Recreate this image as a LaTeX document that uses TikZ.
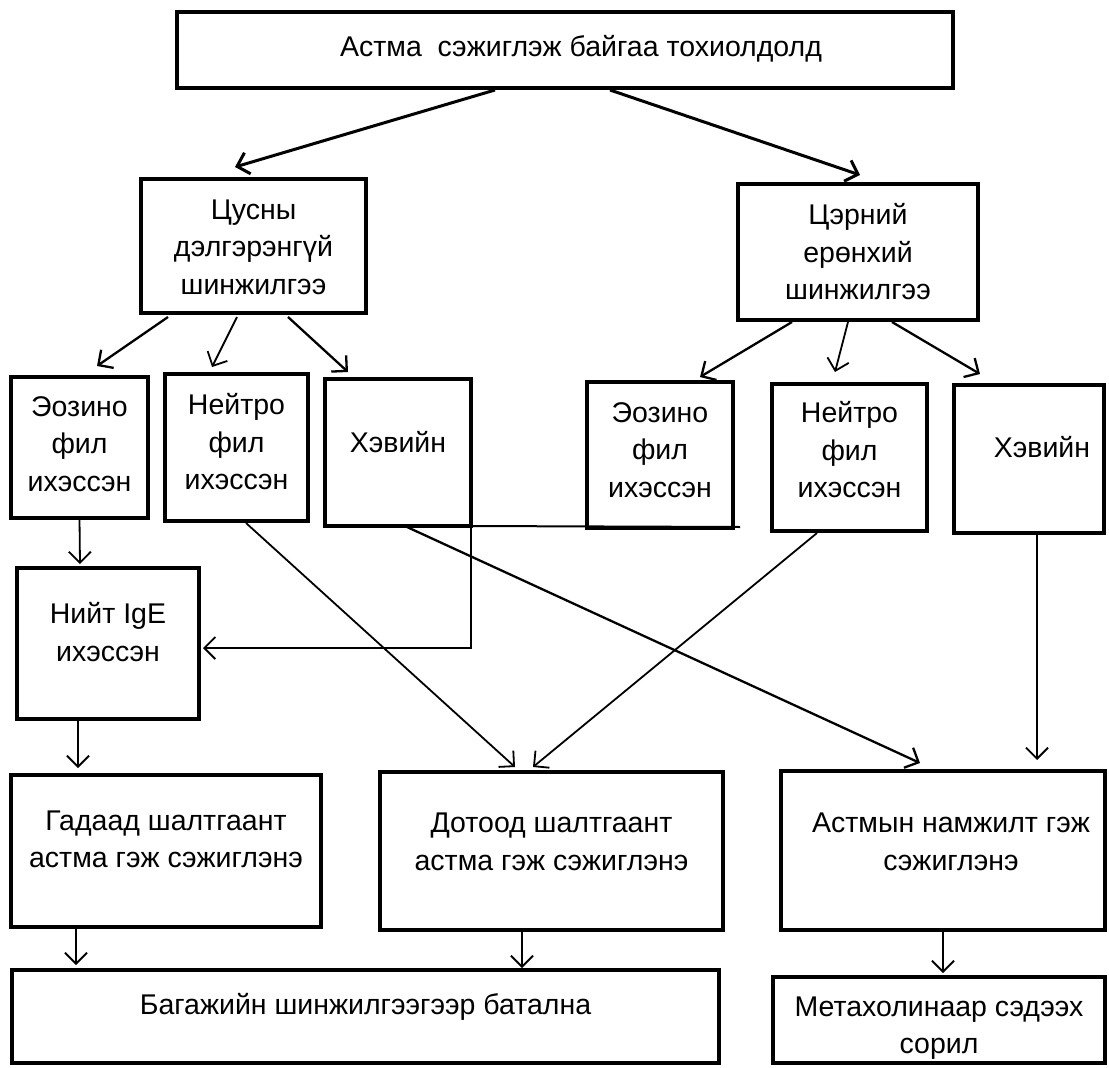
\documentclass[tikz,border=0pt]{standalone}
\usepackage{fontspec}
\setmainfont{Liberation Sans}
\usetikzlibrary{arrows.meta,calc}
\begin{document}
\begin{tikzpicture}[x=1pt,y=-1pt,
  box/.style={draw=black, line width=4pt, inner sep=0pt, outer sep=0pt, rectangle, fill=white},
  txt/.style={font=\fontsize{28.5}{37.5}\selectfont, align=center, inner sep=0pt},
  tip/.style={-{Straight Barb[length=11pt,width=22pt]}},
  arr/.style={tip, line width=1.8pt},
  arrm/.style={tip, line width=2.3pt},
  arrt/.style={tip, line width=3pt},
  ln/.style={line width=2pt}]
\useasboundingbox (0,0) rectangle (1109,1068);
\fill[white] (0,0) rectangle (1109,1068);

% boxes
\node[box, minimum width=776pt, minimum height=76pt] (top) at (565,50) {};
\node[box, minimum width=225pt, minimum height=134pt] (cus) at (253.5,246) {};
\node[box, minimum width=240pt, minimum height=136pt] (cer) at (858,252) {};
\node[box, minimum width=137pt, minimum height=141pt] (eozL) at (79.5,447.5) {};
\node[box, minimum width=143pt, minimum height=147pt] (neiL) at (236.5,447.5) {};
\node[box, minimum width=146pt, minimum height=147pt] (hevL) at (398,452.5) {};
\node[box, minimum width=146pt, minimum height=146pt] (eozR) at (660,455) {};
\node[box, minimum width=155pt, minimum height=147pt] (neiR) at (849.5,457.5) {};
\node[box, minimum width=150pt, minimum height=148pt] (hevR) at (1029,459) {};
\node[box, minimum width=182pt, minimum height=151pt] (igE) at (108,643.5) {};
\node[box, minimum width=310pt, minimum height=152pt] (gad) at (166,851) {};
\node[box, minimum width=343pt, minimum height=158pt] (dot) at (551.5,851) {};
\node[box, minimum width=324pt, minimum height=159pt] (ast) at (943,850.5) {};
\node[box, minimum width=707pt, minimum height=93pt] (bag) at (365.5,1016.5) {};
\node[box, minimum width=332pt, minimum height=86pt] (met) at (939,1020) {};

% texts
\node[txt] (ttop) at ($(top.center)+(16,-1)$) {Астма\ \ сэжиглэж байгаа тохиолдолд};
\node[txt] (tcus) at ($(cus.center)+(0,1)$) {Цусны\\дэлгэрэнгүй\\шинжилгээ};
\node[txt] (tcer) at ($(cer.center)+(0,0)$) {Цэрний\\ерөнхий\\шинжилгээ};
\node[txt] (teozL) at ($(eozL.center)+(0,-3.5)$) {Эозино\\фил\\ихэссэн};
\node[txt] (tneiL) at ($(neiL.center)+(0,-5.5)$) {Нейтро\\фил\\ихэссэн};
\node[txt] (thevL) at ($(hevL.center)+(0,-10.5)$) {Хэвийн};
\node[txt] (teozR) at ($(eozR.center)+(0,-5)$) {Эозино\\фил\\ихэссэн};
\node[txt] (tneiR) at ($(neiR.center)+(0,-7.5)$) {Нейтро\\фил\\ихэссэн};
\node[txt] (thevR) at ($(hevR.center)+(13,-12)$) {Хэвийн};
\node[txt] (tigE) at ($(igE.center)+(0,-11.5)$) {Нийт IgE\\ихэссэн};
\node[txt] (tgad) at ($(gad.center)+(0,-11.5)$) {Гадаад шалтгаант\\астма гэж сэжиглэнэ};
\node[txt] (tdot) at ($(dot.center)+(0,-9)$) {Дотоод шалтгаант\\астма гэж сэжиглэнэ};
\node[txt] (tast) at ($(ast.center)+(8,-8.5)$) {Астмын намжилт гэж\\сэжиглэнэ};
\node[txt] (tbag) at ($(bag.center)+(0,-9.5)$) {Багажийн шинжилгээгээр батална};
\node[txt] (tmet) at ($(met.center)+(0,8)$) {Метахолинаар сэдээх\\сорил};

% connectors
\draw[arrt] ($(top.south)+(-70,2)$) -- ($(cus.north)+(-18.5,-12)$);
\draw[arrt] ($(top.south)+(45,2)$) -- ($(cer.north)+(2,-9)$);

\draw[arrm] ($(cus.south)+(-85.5,4)$) -- ($(eozL.north)+(17.5,-11)$);
\draw[arr]  ($(cus.south)+(-16.5,4)$) -- ($(neiL.north)+(-24.5,-7)$);
\draw[arrm] ($(cus.south)+(34.5,4)$) -- ($(hevL.north)+(-50,-7)$);

\draw[arrm] ($(cer.south)+(-66,2)$) -- ($(eozR.north)+(40,-5)$);
\draw[arr]  ($(cer.south)+(-10,2)$) -- ($(neiR.north)+(-14.5,-12)$);
\draw[arrm] ($(cer.south)+(34,2)$) -- ($(hevR.north)+(-49,-11)$);

\draw[arr] (eozL.south) -- ($(igE.north)+(-28,-4)$);
\draw[ln] (hevL.south east) -- ($(eozR.south east)+(7,-1)$);
\draw[arr] (hevL.south east) |- ($(igE.east)+(4,4.5)$);

\draw[arr]  ($(neiL.south)+(9.5,2)$) -- ($(dot.north)+(-36.5,-5)$);
\draw[arr]  ($(neiR.south)+(-32.5,2)$) -- ($(dot.north)+(-18.5,-5)$);
\draw[arrm] ($(hevL.south)+(9,1)$) -- ($(ast.north)+(-23,-8)$);
\draw[arr]  ($(hevR.south)+(8,0)$) -- ($(ast.north)+(94,-11)$);

\draw[arr] ($(igE.south)+(-30,1)$) -- ($(gad.north)+(-88,-7)$);
\draw[arr] ($(gad.south)+(-90,0)$) -- ($(bag.north)+(-289.5,-5)$);
\draw[arr] ($(dot.south)+(-29.5,0)$) -- ($(bag.north)+(156.5,-2)$);
\draw[arr] (ast.south) -- ($(met.north)+(4,-4)$);
\end{tikzpicture}
\end{document}
